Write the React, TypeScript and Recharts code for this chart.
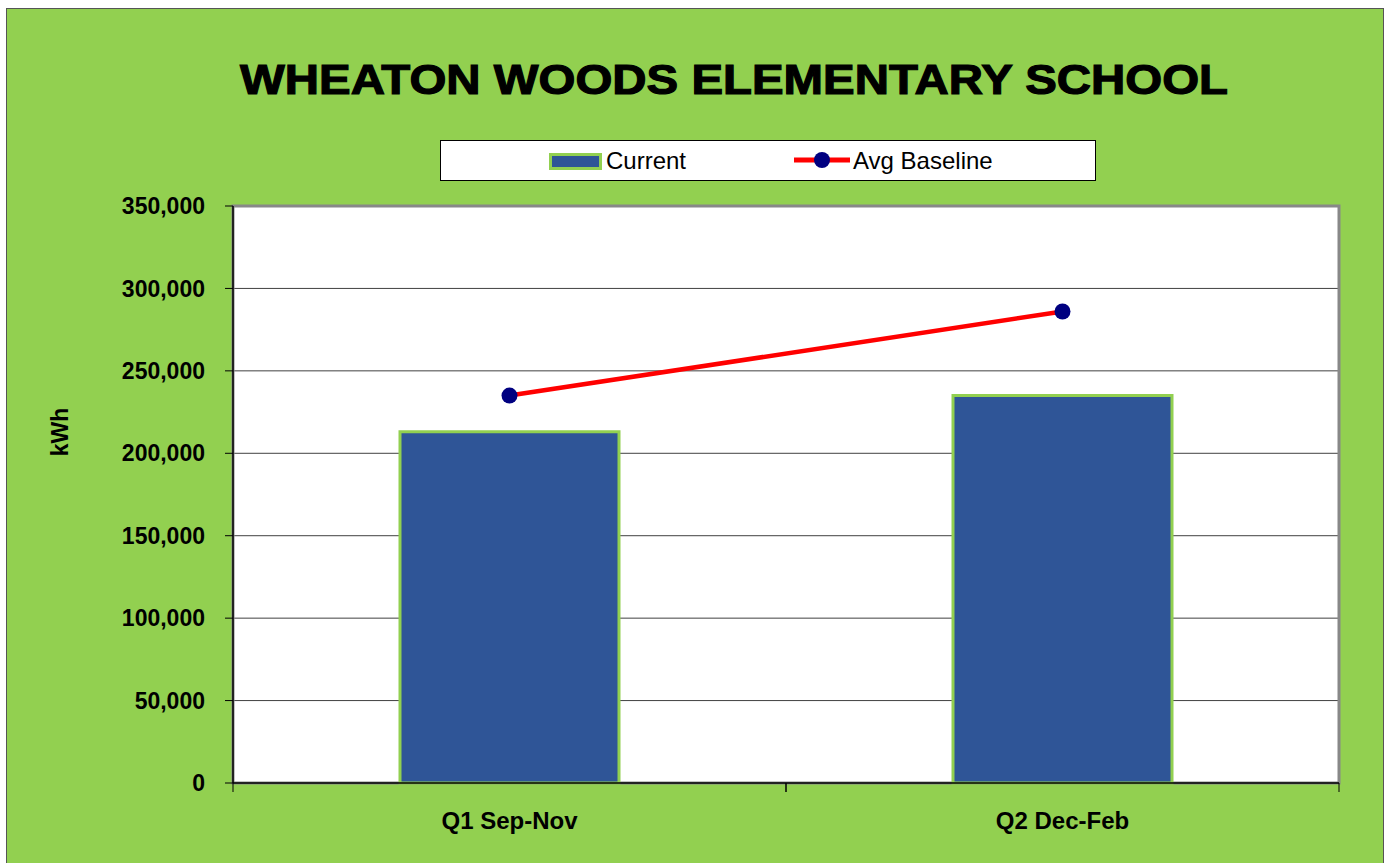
import {
  Bar,
  CartesianGrid,
  ComposedChart,
  Label,
  Legend,
  Line,
  ReferenceArea,
  XAxis,
  YAxis,
} from "recharts";

const quarters = ["Q1 Sep-Nov", "Q2 Dec-Feb"];
const current = [213000, 235000];
const avgBaseline = [235000, 286000];
const yTicks = [0, 50000, 100000, 150000, 200000, 250000, 300000, 350000];

const data = quarters.map((q, i) => ({ quarter: q, current: current[i], baseline: avgBaseline[i] }));

const W = 1391;
const H = 863;
const margin = { top: 206, right: 52, bottom: 40, left: 0 };
const Y_AXIS_W = 233;
const plotW = W - margin.left - margin.right - Y_AXIS_W;
const halfBand = plotW / quarters.length / 2;

const FONT = '"Liberation Sans", Arial, sans-serif';
const GREEN = "#92D050";
const BLUE = "#2F5597";

function XTick(props: any) {
  const { x, y, payload } = props;
  return (
    <g>
      <line x1={x - halfBand} x2={x - halfBand} y1={y} y2={y + 9} stroke="#000" />
      <line x1={x + halfBand} x2={x + halfBand} y1={y} y2={y + 9} stroke="#000" />
      <text x={x} y={y + 46} textAnchor="middle" fontFamily={FONT} fontWeight="bold" fontSize={24} fill="#000">
        {payload.value}
      </text>
    </g>
  );
}

function LegendBox() {
  return (
    <div
      style={{
        width: 654,
        height: 39,
        background: "#fff",
        border: "1px solid #000",
        position: "relative",
        fontFamily: FONT,
        fontSize: 24,
        color: "#000",
      }}
    >
      <div
        style={{
          position: "absolute",
          left: 108,
          top: 12,
          width: 47,
          height: 11,
          background: BLUE,
          border: `3px solid ${GREEN}`,
        }}
      />
      <span style={{ position: "absolute", left: 165, top: 6, lineHeight: "27px" }}>Current</span>
      <svg style={{ position: "absolute", left: 352, top: 8 }} width={58} height={22}>
        <line x1={1} x2={57} y1={11} y2={11} stroke="#FF0000" strokeWidth={5} />
        <circle cx={29} cy={11} r={8} fill="#000080" />
      </svg>
      <span style={{ position: "absolute", left: 412, top: 6, lineHeight: "27px" }}>Avg Baseline</span>
    </div>
  );
}

export default function App() {
  return (
    <div style={{ position: "absolute", left: 0, top: 0, width: W, height: H, background: "#fff", overflow: "hidden" }}>
      <div
        style={{
          position: "absolute",
          left: 6,
          top: 8,
          width: 1376,
          height: 860,
          background: GREEN,
          borderTop: "1px solid #555",
          borderLeft: "1px solid #555",
          borderRight: "1px solid #555",
        }}
      />
      <svg style={{ position: "absolute", left: 0, top: 0 }} width={W} height={120}>
        <text
          x={734}
          y={94}
          textAnchor="middle"
          fontFamily={FONT}
          fontWeight="bold"
          fontSize={43}
          textLength={988}
          lengthAdjust="spacingAndGlyphs"
          stroke="#000"
          strokeWidth={1.2}
          fill="#000"
        >
          WHEATON WOODS ELEMENTARY SCHOOL
        </text>
      </svg>
      <div style={{ position: "absolute", left: 0, top: 0 }}>
        <ComposedChart width={W} height={H} data={data} margin={margin}>
          <CartesianGrid vertical={false} stroke="#404040" fill="#fff" fillOpacity={1} />
          <ReferenceArea y1={0} y2={350000} fill="none" stroke="#888" strokeWidth={3} ifOverflow="visible" />
          <XAxis
            dataKey="quarter"
            height={40}
            tickSize={0}
            tickMargin={0}
            tickLine={false}
            axisLine={{ stroke: "#000", strokeWidth: 1.5 }}
            tick={<XTick />}
            interval={0}
          />
          <YAxis
            width={Y_AXIS_W}
            domain={[0, 350000]}
            ticks={yTicks}
            tickFormatter={(v: number) => v.toLocaleString("en-US")}
            tickSize={8}
            tickMargin={20}
            axisLine={{ stroke: "#000", strokeWidth: 1.5 }}
            tickLine={{ stroke: "#000" }}
            tick={{ fontFamily: FONT, fontWeight: "bold", fontSize: 23, fill: "#000" }}
          >
            <Label
              content={({ viewBox }: any) => {
                const cx = viewBox.x + 60;
                const cy = 432;
                return (
                  <text
                    x={cx}
                    y={cy}
                    transform={`rotate(-90 ${cx} ${cy})`}
                    textAnchor="middle"
                    dominantBaseline="central"
                    fontFamily={FONT}
                    fontWeight="bold"
                    fontSize={23}
                    fill="#000"
                  >
                    kWh
                  </text>
                );
              }}
            />
          </YAxis>
          <Legend
            layout="vertical"
            align="center"
            verticalAlign="middle"
            content={() => <LegendBox />}
            wrapperStyle={{ position: "absolute", left: 440, top: 140, width: 656, height: 41 }}
          />
          <Bar
            dataKey="current"
            name="Current"
            fill={BLUE}
            stroke={GREEN}
            strokeWidth={3}
            barSize={219}
            isAnimationActive={false}
          />
          <Line
            dataKey="baseline"
            name="Avg Baseline"
            type="linear"
            stroke="#FF0000"
            strokeWidth={4.5}
            dot={{ r: 8, fill: "#000080", stroke: "none" }}
            activeDot={false}
            isAnimationActive={false}
          />
        </ComposedChart>
      </div>
    </div>
  );
}
